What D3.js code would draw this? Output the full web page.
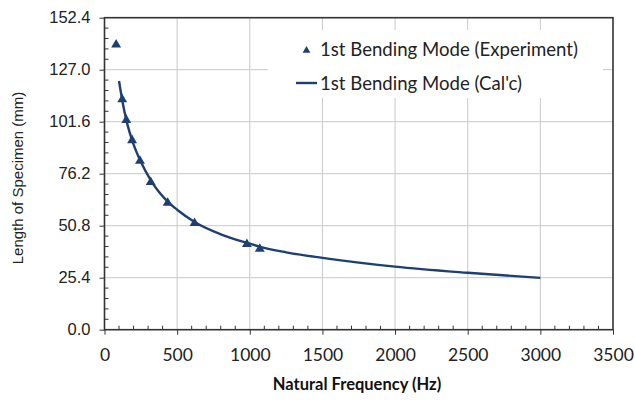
<!DOCTYPE html>
<html><head><meta charset="utf-8">
<script src="https://cdn.jsdelivr.net/npm/d3@7/dist/d3.min.js"></script>
<style>
html,body{margin:0;padding:0;background:#fff;}
svg{display:block;}
</style></head>
<body>
<svg id="chart" width="635" height="404"></svg>
<script>
// Data
const expFreq = [80, 122, 150, 190, 244, 318, 435, 620, 980, 1069];
const expLen  = [139.7, 113.0, 102.9, 93.0, 82.9, 72.6, 62.4, 52.5, 42.3, 39.9];
const calcFreq = [100, 125, 150, 200, 250, 320, 440, 500, 620, 800, 1000, 1070, 1250, 1500, 2000, 2500, 3000];
const calcLen  = [121.5, 111, 102.5, 90.5, 82, 72.8, 62.2, 58.6, 52.6, 46.6, 42, 40.5, 37.8, 35.1, 30.8, 27.8, 25.3];
const xTicks = [0, 500, 1000, 1500, 2000, 2500, 3000, 3500];
const yTicks = [0, 25.4, 50.8, 76.2, 101.6, 127.0, 152.4];
const seriesNames = ["1st Bending Mode (Experiment)", "1st Bending Mode (Cal'c)"];
const xTitle = "Natural Frequency (Hz)";
const yTitle = "Length of Specimen (mm)";

const W = 635, H = 404;
const m = {left: 104.5, right: 22, top: 17.7, bottom: 74.3};
const iw = W - m.left - m.right, ih = H - m.top - m.bottom;
const color = "#1d3f72";
const gridColor = "#c9c9c9";
const axisColor = "#333";

const svg = d3.select("#chart");
const g = svg.append("g").attr("transform", `translate(${m.left},${m.top})`);

const x = d3.scaleLinear().domain([0, 3500]).range([0, iw]);
const y = d3.scaleLinear().domain([0, 152.4]).range([ih, 0]);

// grid
g.append("g").selectAll("line").data(xTicks.slice(1, -1)).join("line")
  .attr("x1", d => x(d)).attr("x2", d => x(d)).attr("y1", 0).attr("y2", ih)
  .attr("stroke", gridColor).attr("stroke-width", 1);
g.append("g").selectAll("line").data(yTicks.slice(1, -1)).join("line")
  .attr("x1", 0).attr("x2", iw).attr("y1", d => y(d)).attr("y2", d => y(d))
  .attr("stroke", gridColor).attr("stroke-width", 1);

// minor ticks
const xMinor = d3.range(0, 3501, 100).filter(v => v % 500 !== 0);
const yMinor = d3.range(0, 30).map(i => i * 5.08).filter((v, i) => i % 5 !== 0);
g.append("g").selectAll("line").data(xMinor).join("line")
  .attr("x1", d => x(d)).attr("x2", d => x(d)).attr("y1", ih - 4).attr("y2", ih)
  .attr("stroke", axisColor).attr("stroke-width", 1);
g.append("g").selectAll("line").data(yMinor).join("line")
  .attr("x1", 0).attr("x2", 4).attr("y1", d => y(d)).attr("y2", d => y(d))
  .attr("stroke", axisColor).attr("stroke-width", 1);

// axes
const xAxis = g.append("g").attr("transform", `translate(0,${ih})`)
  .call(d3.axisBottom(x).tickValues(xTicks).tickSize(5).tickPadding(14).tickFormat(d3.format("d")));
xAxis.select(".domain").remove();
xAxis.selectAll("line").attr("stroke", axisColor);
xAxis.selectAll("text").attr("font-family", "Lato, 'Open Sans', sans-serif").attr("font-size", 17.5).attr("fill", "#222");

const yAxis = g.append("g")
  .call(d3.axisLeft(y).tickValues(yTicks).tickSize(5).tickPadding(9).tickFormat(d3.format(".1f")));
yAxis.select(".domain").remove();
yAxis.selectAll("line").attr("stroke", axisColor);
yAxis.selectAll("text").attr("font-family", "'Liberation Sans', Arial, sans-serif").attr("font-size", 16.5).attr("fill", "#222");

// frame
g.append("rect").attr("x", 0).attr("y", 0).attr("width", iw).attr("height", ih)
  .attr("fill", "none").attr("stroke", axisColor).attr("stroke-width", 1.6);

// legend background (hides grid)
const lg = svg.append("g");
lg.append("rect").attr("x", 268).attr("y", 30).attr("width", 335).attr("height", 68).attr("fill", "#fff");

// calc line
const line = d3.line().x((d, i) => x(calcFreq[i])).y((d, i) => y(calcLen[i])).curve(d3.curveMonotoneX);
g.append("path").datum(calcLen).attr("d", line)
  .attr("fill", "none").attr("stroke", color).attr("stroke-width", 2.4);

// experiment points
const tri = d3.symbol().type(d3.symbolTriangle).size(42);
g.append("g").selectAll("path").data(expLen).join("path")
  .attr("d", tri)
  .attr("transform", (d, i) => `translate(${x(expFreq[i])},${y(d) + 1})`)
  .attr("fill", color);

// legend entries
lg.append("path").attr("d", d3.symbol().type(d3.symbolTriangle).size(26)())
  .attr("transform", "translate(306.5,50.5)").attr("fill", color);
lg.append("line").attr("x1", 296).attr("x2", 317).attr("y1", 83).attr("y2", 83)
  .attr("stroke", color).attr("stroke-width", 2.4);
lg.selectAll("text").data(seriesNames).join("text")
  .attr("x", 320).attr("y", (d, i) => 49 + i * 34).attr("dy", "0.36em")
  .attr("font-family", "Lato, 'Open Sans', sans-serif").attr("font-size", 18.6).attr("fill", "#222")
  .text(d => d);

// titles
svg.append("text").attr("x", 357).attr("y", 390)
  .attr("text-anchor", "middle").attr("font-family", "Lato, 'Open Sans', sans-serif")
  .attr("font-weight", "bold").attr("font-size", 16.5).attr("fill", "#111").text(xTitle);
svg.append("text").attr("transform", "translate(23,178) rotate(-90)")
  .attr("text-anchor", "middle").attr("font-family", "'Liberation Sans', Arial, sans-serif")
  .attr("font-size", 15).attr("fill", "#222").text(yTitle);
</script>
</body></html>
